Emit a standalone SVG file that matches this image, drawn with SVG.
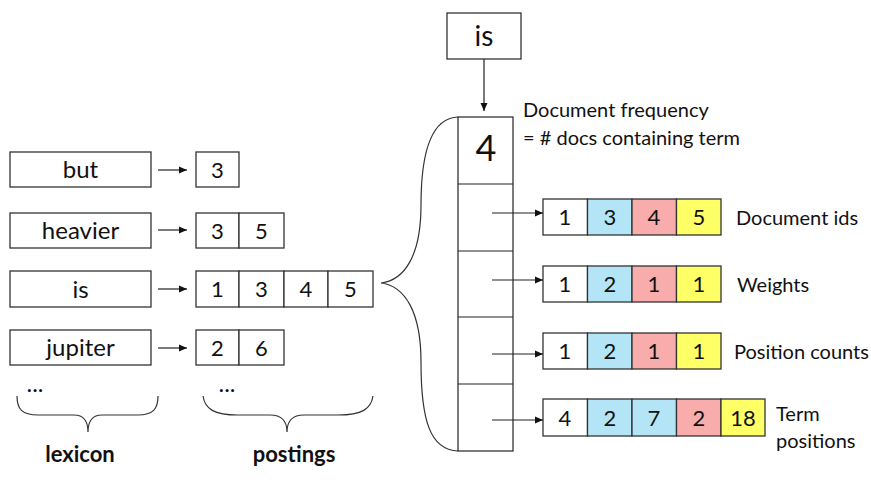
<svg xmlns="http://www.w3.org/2000/svg" width="871" height="496" viewBox="0 0 871 496">
<defs>
<marker id="ah" markerWidth="8" markerHeight="8" viewBox="0 0 8 8" refX="8" refY="4" orient="auto" markerUnits="userSpaceOnUse">
<path d="M0,0.5 L8,4 L0,7.5 Z" fill="#111"/>
</marker>
<style>
.box{fill:#fff;stroke:#333;stroke-width:1.3}
.w{fill:#fff;stroke:#333;stroke-width:1.3}
.b{fill:#b4e5f7;stroke:#333;stroke-width:1.3}
.p{fill:#f8acac;stroke:#333;stroke-width:1.3}
.y{fill:#ffff66;stroke:#333;stroke-width:1.3}
text{font-family:Lato,"Open Sans","DejaVu Sans",sans-serif;fill:#111}
.lex{font-size:24px;text-anchor:middle}
.num{font-size:22px;text-anchor:middle}
.lbl{font-size:20px}
.cap{font-size:22px;font-weight:bold;text-anchor:middle}
.ln{stroke:#222;stroke-width:1.2;fill:none}
.br{stroke:#333;stroke-width:1.2;fill:none}
</style>
</defs>
<rect width="871" height="496" fill="#fff"/>

<g id="lexicon">
<g id="lex-but"><rect class="box" x="10" y="152" width="141" height="35"/><text class="lex" x="80.5" y="178">but</text></g>
<g id="lex-heavier"><rect class="box" x="10" y="213" width="141" height="35"/><text class="lex" x="80.5" y="239">heavier</text></g>
<g id="lex-is"><rect class="box" x="10" y="271" width="141" height="36"/><text class="lex" x="80.5" y="298">is</text></g>
<g id="lex-jupiter"><rect class="box" x="10" y="330" width="141" height="35"/><text class="lex" x="80.5" y="356">jupiter</text></g>
<text id="lex-dots" class="lex" x="35" y="392">...</text>
</g>

<g id="postings">
<g id="post-but"><rect class="box" x="196" y="152" width="43" height="35"/><text class="num" x="217.5" y="178">3</text></g>
<g id="post-heavier">
<rect class="box" x="196" y="213" width="43" height="35"/><rect class="box" x="239" y="213" width="45" height="35"/>
<text class="num" x="217.5" y="239">3</text><text class="num" x="261.5" y="239">5</text></g>
<g id="post-is">
<rect class="box" x="196" y="271" width="43" height="36"/><rect class="box" x="239" y="271" width="45" height="36"/><rect class="box" x="284" y="271" width="44" height="36"/><rect class="box" x="328" y="271" width="45" height="36"/>
<text class="num" x="217.5" y="297">1</text><text class="num" x="261.5" y="297">3</text><text class="num" x="306" y="297">4</text><text class="num" x="350.5" y="297">5</text></g>
<g id="post-jupiter">
<rect class="box" x="196" y="330" width="43" height="35"/><rect class="box" x="239" y="330" width="45" height="35"/>
<text class="num" x="217.5" y="356">2</text><text class="num" x="261.5" y="356">6</text></g>
<text id="post-dots" class="lex" x="227" y="392">...</text>
</g>

<g id="braces">
<path class="br" d="M17,396 C17,409 22,415 38,415 L74,415 C84,415 88,421 88,432 C88,421 92,415 102,415 L138,415 C153,415 158,409 158,396"/>
<path class="br" d="M203,396 C205,409 214,415 238,415 L270,415 C282,415 287,421 287,432 C287,421 292,415 304,415 L338,415 C362,415 371,409 373,396"/>
<text class="cap" x="80" y="462">lexicon</text>
<text class="cap" x="294" y="462">postings</text>
<path class="br" d="M458,117 C430,118 421,155 421,205 C421,255 405,280 381,283 C405,286 421,312 421,362 C421,420 430,450 458,451"/>
</g>

<g id="term-is"><rect class="box" x="447" y="13" width="74" height="46"/><text class="lex" x="484" y="46" style="font-size:28px">is</text></g>

<g id="column">
<rect class="box" x="458" y="117" width="55" height="334"/>
<line class="ln" x1="458" y1="184" x2="513" y2="184"/>
<line class="ln" x1="458" y1="251" x2="513" y2="251"/>
<line class="ln" x1="458" y1="317" x2="513" y2="317"/>
<line class="ln" x1="458" y1="384" x2="513" y2="384"/>
<text class="num" x="486" y="161" style="font-size:36px">4</text>
</g>

<g id="labels">
<text class="lbl" x="523" y="117">Document frequency</text>
<text class="lbl" x="523" y="145">= # docs containing term</text>
<text class="lbl" x="736" y="225">Document ids</text>
<text class="lbl" x="737" y="292">Weights</text>
<text class="lbl" x="734" y="359">Position counts</text>
<text class="lbl" x="776" y="421">Term</text>
<text class="lbl" x="776" y="448">positions</text>
</g>

<g id="doc-ids">
<rect class="w" x="543" y="199" width="44.5" height="36"/><rect class="b" x="587.5" y="199" width="44.5" height="36"/><rect class="p" x="632" y="199" width="44.5" height="36"/><rect class="y" x="676.5" y="199" width="44.5" height="36"/>
<text class="num" x="565" y="225">1</text><text class="num" x="610" y="225">3</text><text class="num" x="654" y="225">4</text><text class="num" x="699" y="225">5</text>
</g>
<g id="weights">
<rect class="w" x="543" y="266" width="44.5" height="36"/><rect class="b" x="587.5" y="266" width="44.5" height="36"/><rect class="p" x="632" y="266" width="44.5" height="36"/><rect class="y" x="676.5" y="266" width="44.5" height="36"/>
<text class="num" x="565" y="292">1</text><text class="num" x="610" y="292">2</text><text class="num" x="654" y="292">1</text><text class="num" x="699" y="292">1</text>
</g>
<g id="position-counts">
<rect class="w" x="543" y="333" width="44.5" height="36"/><rect class="b" x="587.5" y="333" width="44.5" height="36"/><rect class="p" x="632" y="333" width="44.5" height="36"/><rect class="y" x="676.5" y="333" width="44.5" height="36"/>
<text class="num" x="565" y="359">1</text><text class="num" x="610" y="359">2</text><text class="num" x="654" y="359">1</text><text class="num" x="699" y="359">1</text>
</g>
<g id="term-positions">
<rect class="w" x="543" y="399" width="44.5" height="37"/><rect class="b" x="587.5" y="399" width="44.5" height="37"/><rect class="b" x="632" y="399" width="44.5" height="37"/><rect class="p" x="676.5" y="399" width="44.5" height="37"/><rect class="y" x="721" y="399" width="44" height="37"/>
<text class="num" x="565" y="426">4</text><text class="num" x="610" y="426">2</text><text class="num" x="654" y="426">7</text><text class="num" x="699" y="426">2</text><text class="num" x="743" y="426">18</text>
</g>

<g id="connectors">
<line class="ln" x1="158" y1="170" x2="187" y2="170" marker-end="url(#ah)"/>
<line class="ln" x1="158" y1="230" x2="187" y2="230" marker-end="url(#ah)"/>
<line class="ln" x1="158" y1="289" x2="187" y2="289" marker-end="url(#ah)"/>
<line class="ln" x1="158" y1="348" x2="187" y2="348" marker-end="url(#ah)"/>
<line class="ln" x1="484" y1="59" x2="484" y2="111" marker-end="url(#ah)"/>
<line class="ln" x1="492" y1="213" x2="543" y2="213" marker-end="url(#ah)"/>
<line class="ln" x1="492" y1="280" x2="543" y2="280" marker-end="url(#ah)"/>
<line class="ln" x1="492" y1="354" x2="543" y2="354" marker-end="url(#ah)"/>
<line class="ln" x1="492" y1="420" x2="543" y2="420" marker-end="url(#ah)"/>
</g>
</svg>
